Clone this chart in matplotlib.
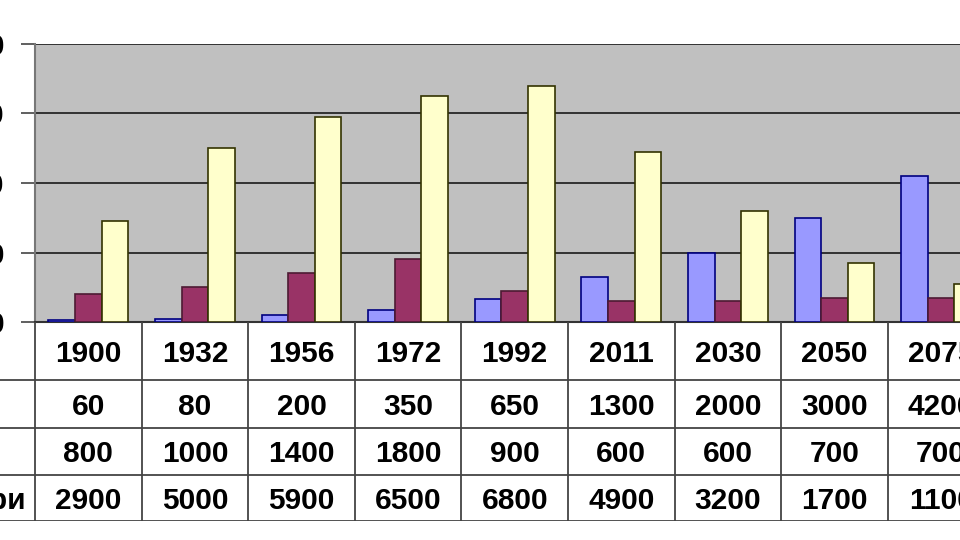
import matplotlib
matplotlib.use("Agg")
import matplotlib.pyplot as plt
import numpy as np

# ── data ──────────────────────────────────────────────────────────────────────
years = ["1900", "1932", "1956", "1972", "1992", "2011", "2030", "2050", "2075"]
series_names = ["Градове", "Села", "Колиби и хутори"]
blue_vals = [60, 80, 200, 350, 650, 1300, 2000, 3000, 4200]
plum_vals = [800, 1000, 1400, 1800, 900, 600, 600, 700, 700]
yellow_vals = [2900, 5000, 5900, 6500, 6800, 4900, 3200, 1700, 1100]
y_ticks = [0, 2000, 4000, 6000, 8000]

FILLS = ["#9999FF", "#993366", "#FFFFCC"]
EDGES = ["#000080", "#4D1A33", "#333300"]
FONT = "Liberation Sans"
FS = 21.5

W, H = 960, 540
fig = plt.figure(figsize=(9.6, 5.4), dpi=100)

# plot area (extends past the right edge, as in the cropped original)
x0 = 35
col_w = 106.6
n = len(years)
top_px, base_px, table_bot = 44, 322, 521
ax = fig.add_axes([x0 / W, 1 - base_px / H, n * col_w / W, (base_px - top_px) / H])
ax.set_facecolor("#C0C0C0")

x = np.arange(n)
bw = 0.25
for k, vals in enumerate([blue_vals, plum_vals, yellow_vals]):
    ax.bar(x + (k - 1) * bw, vals, width=bw, color=FILLS[k],
           edgecolor=EDGES[k], linewidth=1.2, zorder=3, label=series_names[k])

ax.set_xlim(-0.5, n - 0.5)
ax.set_ylim(0, 8000)
ax.set_yticks(y_ticks)
ax.set_yticklabels([str(v) for v in y_ticks], fontsize=FS,
                   fontweight="bold", family=FONT)
ax.tick_params(axis="y", length=10, width=1.2, color="#444444", pad=12)
ax.set_xticks([])
ax.grid(axis="y", color="#1a1a1a", linewidth=1.2, zorder=1)
for s in ["top", "right"]:
    ax.spines[s].set_visible(False)
ax.spines["left"].set_color("#777777")
ax.spines["left"].set_linewidth(1.5)
ax.spines["bottom"].set_color("#333333")
ax.spines["bottom"].set_linewidth(1.5)

# ── data table under the plot ─────────────────────────────────────────────────
row_h = [58, 48, 47, 46]
tab_h = sum(row_h)
tax = fig.add_axes([0, 1 - table_bot / H, (x0 + n * col_w) / W, tab_h / H])
tax.set_xlim(-x0 / col_w - 0.5, n - 0.5)
tax.set_ylim(0, tab_h)
tax.axis("off")

edges_y = tab_h - np.cumsum([0] + row_h)
line_kw = dict(color="#444444", linewidth=1.3)
for i in range(n + 1):
    tax.plot([i - 0.5, i - 0.5], [edges_y[-1], edges_y[0]], **line_kw)
for yy in edges_y[1:]:
    tax.plot([-x0 / col_w - 0.5, n - 0.5], [yy, yy], **line_kw)

rows = [years, blue_vals, plum_vals, yellow_vals]
for r, row in enumerate(rows):
    yc = (edges_y[r] + edges_y[r + 1]) / 2 - 3
    for i, v in enumerate(row):
        tax.text(i, yc, str(v), ha="center", va="center", fontsize=FS,
                 fontweight="bold", family=FONT)

# row headers: left aligned, longest one ends just at the left margin
fig.canvas.draw()
rend = fig.canvas.get_renderer()
labels = []
for r, name in enumerate(series_names):
    yc = (edges_y[r + 1] + edges_y[r + 2]) / 2 - 3
    t = tax.text(0, yc, name, ha="left", va="center", fontsize=FS,
                 fontweight="bold", family=FONT)
    labels.append(t)
widths = [t.get_window_extent(rend).width for t in labels]
left_px = 26 - max(widths)
for t in labels:
    t.set_x(-0.5 + (left_px - x0) / col_w)

fig.savefig("out.png", dpi=100)
